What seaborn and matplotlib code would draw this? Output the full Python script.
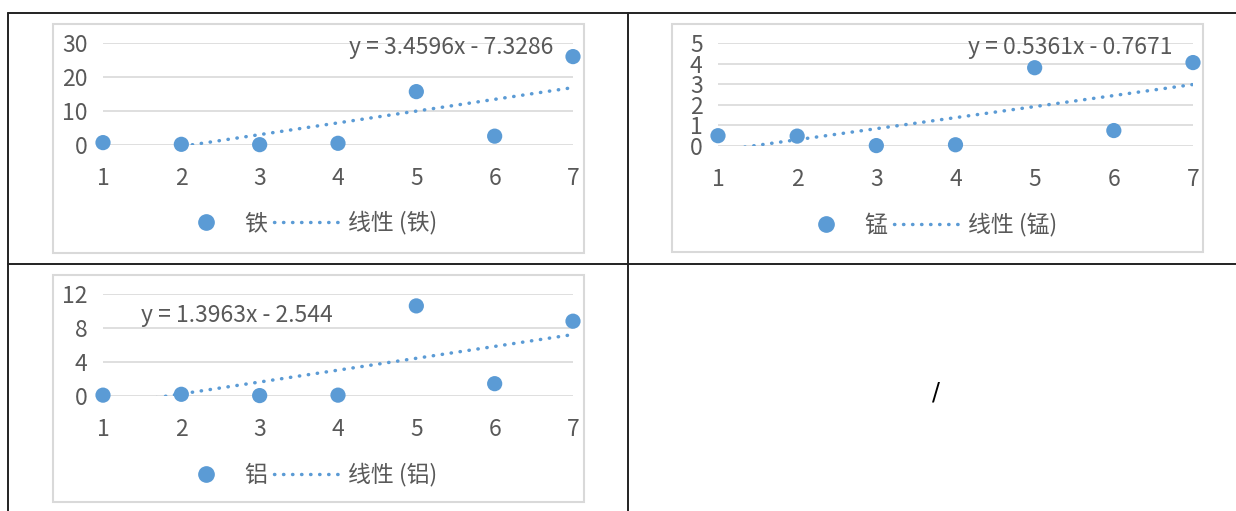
import numpy as np
import matplotlib
matplotlib.use("Agg")
import matplotlib.pyplot as plt
import seaborn as sns
from matplotlib.lines import Line2D
from matplotlib.patches import Rectangle

# ==========================================
# 数据
# ==========================================
x_vals = [1, 2, 3, 4, 5, 6, 7]

fe_name = "铁"
fe_vals = [0.7, 0.2, 0.1, 0.5, 15.7, 2.6, 26.0]
fe_fit = [3.4596, -7.3286]
fe_eq = "y = 3.4596x - 7.3286"
fe_yticks = [0, 10, 20, 30]

mn_name = "锰"
mn_vals = [0.5, 0.48, 0.02, 0.06, 3.8, 0.75, 4.05]
mn_fit = [0.5361, -0.7671]
mn_eq = "y = 0.5361x - 0.7671"
mn_yticks = [0, 1, 2, 3, 4, 5]

al_name = "铝"
al_vals = [0.1, 0.2, 0.05, 0.1, 10.6, 1.45, 8.8]
al_fit = [1.3963, -2.544]
al_eq = "y = 1.3963x - 2.544"
al_yticks = [0, 4, 8, 12]

empty_cell = "/"

# ==========================================
# 样式
# ==========================================
sns.set_style("white")
plt.rcParams['font.family'] = ['Noto Sans CJK SC', 'DejaVu Sans']
plt.rcParams['axes.unicode_minus'] = False

W, H = 1236, 511
BLUE = "#5B9BD5"
GRID = "#D9D9D9"
TXT = "#595959"
FS = 16.5
LW = 2.5
DOT = (0, (0.1, 2.5))

fig = plt.figure(figsize=(W / 100, H / 100), dpi=100)


def fx(px):
    return px / W


def fy(py):
    return 1 - py / H


def draw_chart(ax_box, frame_box, name, vals, fit, eq, yticks, eq_pos, eq_ha, legend_pos):
    x0, y0, x1, y1 = ax_box
    ax = fig.add_axes([fx(x0), fy(y1), fx(x1 - x0), (y1 - y0) / H])
    ax.set_facecolor("none")

    # 散点
    sns.scatterplot(x=x_vals, y=vals, ax=ax, color=BLUE, s=120,
                    edgecolor="none", clip_on=False, zorder=3)
    # 线性趋势线
    trend = [fit[0] * x + fit[1] for x in x_vals]
    sns.lineplot(x=x_vals, y=trend, ax=ax, color=BLUE, lw=LW,
                 linestyle=DOT, dash_capstyle="round", zorder=2)

    ax.set_xlim(1, 7)
    ax.set_ylim(yticks[0], yticks[-1])
    ax.set_xticks(x_vals)
    ax.set_yticks(yticks)
    ax.grid(axis="y", color=GRID, lw=1.2)
    ax.grid(axis="x", visible=False)
    for s in ax.spines.values():
        s.set_visible(False)
    ax.tick_params(axis="x", length=0, pad=16, labelsize=FS, labelcolor=TXT)
    ax.tick_params(axis="y", length=0, pad=11, labelsize=FS, labelcolor=TXT)
    ax.set_xlabel("")
    ax.set_ylabel("")

    # 趋势线公式
    fig.text(fx(eq_pos[0]), fy(eq_pos[1]), eq, ha=eq_ha, va="center",
             fontsize=FS, color=TXT)

    # 外框
    fx0, fy0, fx1, fy1 = frame_box
    fig.add_artist(Rectangle((fx(fx0), fy(fy1)), fx(fx1 - fx0), (fy1 - fy0) / H,
                             transform=fig.transFigure, fill=False,
                             edgecolor=GRID, lw=1.5))

    # 图例
    handles = [
        Line2D([], [], marker="o", linestyle="none", color=BLUE, markersize=11),
        Line2D([], [], color=BLUE, lw=LW, linestyle=DOT, dash_capstyle="round"),
    ]
    labels = [name, f"线性 ({name})"]
    leg = ax.legend(handles, labels, ncol=2, frameon=False, loc="center",
                    bbox_to_anchor=(fx(legend_pos[0]), fy(legend_pos[1])),
                    bbox_transform=fig.transFigure, fontsize=FS,
                    handlelength=3.0, handletextpad=0.2, columnspacing=0.3)
    for t in leg.get_texts():
        t.set_color(TXT)
    return ax


draw_chart((103, 43, 573, 145), (53, 24, 584, 253), fe_name, fe_vals, fe_fit,
           fe_eq, fe_yticks, (553, 47), "right", (304, 223))
draw_chart((718, 43, 1193, 146), (672, 24, 1203, 252), mn_name, mn_vals, mn_fit,
           mn_eq, mn_yticks, (1172, 47), "right", (924, 225))
draw_chart((103, 294, 573, 396), (53, 275, 584, 502), al_name, al_vals, al_fit,
           al_eq, al_yticks, (141, 315), "left", (304, 475))

fig.text(fx(936), fy(392), empty_cell, ha="center", va="center",
         fontsize=17, color="black", family=["DejaVu Sans"])

# 表格线
table_lines = [
    ([8, W], [13.5, 13.5]),
    ([8, W], [263.5, 263.5]),
    ([8, 8], [13.5, H]),
    ([628, 628], [13.5, H]),
]
for xs, ys in table_lines:
    fig.add_artist(Line2D([fx(v) for v in xs], [fy(v) for v in ys],
                          transform=fig.transFigure, color="#222222", lw=1.4))

plt.savefig("out.png", dpi=100)
plt.close()
